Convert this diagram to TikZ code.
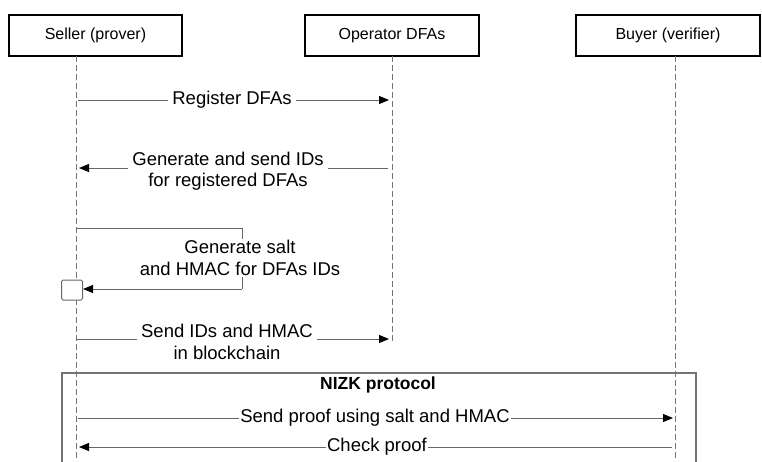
\documentclass[tikz,border=0pt]{standalone}
\usepackage{fontspec}
\setmainfont{Liberation Sans}
\usetikzlibrary{arrows.meta}

\tikzset{
  actor/.style={draw=black, line width=1.8pt, fill=white, minimum height=41pt,
                inner sep=0pt, font=\fontsize{16}{19}\selectfont},
  lifeline/.style={draw=black!55, line width=1pt, dash pattern=on 6pt off 3pt},
  msg/.style={draw=black!60, line width=1pt,
              -{Triangle[length=10pt,width=8pt,color=black]}},
  msgplain/.style={draw=black!60, line width=1pt},
  msglabel/.style={fill=white, inner xsep=4pt, inner ysep=1pt, align=center,
                   font=\fontsize{18.5}{21.5}\selectfont},
  activation/.style={draw=black!60, line width=1pt, fill=white,
                     rounded corners=1.5pt, minimum width=21pt, minimum height=20pt,
                     inner sep=0pt},
  framebox/.style={draw=black!55, line width=1.3pt}
}

\begin{document}
\begin{tikzpicture}[x=1pt,y=-1pt]
  \useasboundingbox (0,0) rectangle (762,461);

  % participants
  \node[actor, minimum width=173pt] (seller) at (95.5,35.5) {Seller (prover)};
  \node[actor, minimum width=174pt] (oper)   at (392,35.5) {Operator DFAs};
  \node[actor, minimum width=184pt] (buyer)  at (668,35.5) {Buyer (verifier)};

  % lifeline anchors
  \coordinate (sTop) at (76,56);
  \coordinate (sBot) at (76,461);
  \coordinate (oTop) at (392,56);
  \coordinate (oBot) at (392,343);
  \coordinate (bTop) at (675,56);
  \coordinate (bBot) at (675,461);

  % message end points
  \coordinate (s1) at (78,100);   \coordinate (o1) at (389,100);
  \coordinate (o2) at (388,168);  \coordinate (s2) at (79,168);
  \coordinate (s3) at (77,228);   \coordinate (t3a) at (242,228);
  \coordinate (t3b) at (242,289);
  \coordinate (s4) at (76,339);   \coordinate (o4) at (389,339);
  \coordinate (s5) at (78,418);   \coordinate (b5) at (673,418);
  \coordinate (b6) at (672,447);  \coordinate (s6) at (79,447);

  % NIZK frame (runs past the lower edge)
  \coordinate (fA) at (62,373);
  \coordinate (fB) at (696,470);
  \draw[framebox] (fA) rectangle (fB);

  % lifelines
  \draw[lifeline] (sTop) -- (sBot);
  \draw[lifeline] (oTop) -- (oBot);
  \draw[lifeline] (bTop) -- (bBot);

  % activation box on the seller lifeline
  \node[activation] (act) at (72,290) {};

  % messages
  \draw[msg] (s1) -- (o1);
  \node[msglabel] (m1) at (232,100) {Register DFAs};

  \draw[msg] (o2) -- (s2);
  \node[msglabel] (m2) at (228,171) {Generate and send IDs\\for registered DFAs};

  \draw[msgplain] (s3) -- (t3a) -- (t3b);
  \draw[msg] (t3b) -- (act.east |- t3b);
  \node[msglabel] (m3) at (240,258) {Generate salt\\and HMAC for DFAs IDs};

  \draw[msg] (s4) -- (o4);
  \node[msglabel] (m4) at (227,342) {Send IDs and HMAC\\in blockchain};

  \node[font=\fontsize{17.5}{20}\selectfont\bfseries] (nizk) at (378,385) {NIZK protocol};

  \draw[msg] (s5) -- (b5);
  \node[msglabel, inner xsep=1pt] (m5) at (375,418) {Send proof using salt and HMAC};

  \draw[msg] (b6) -- (s6);
  \node[msglabel, inner xsep=1pt] (m6) at (377,447) {Check proof};
\end{tikzpicture}
\end{document}
